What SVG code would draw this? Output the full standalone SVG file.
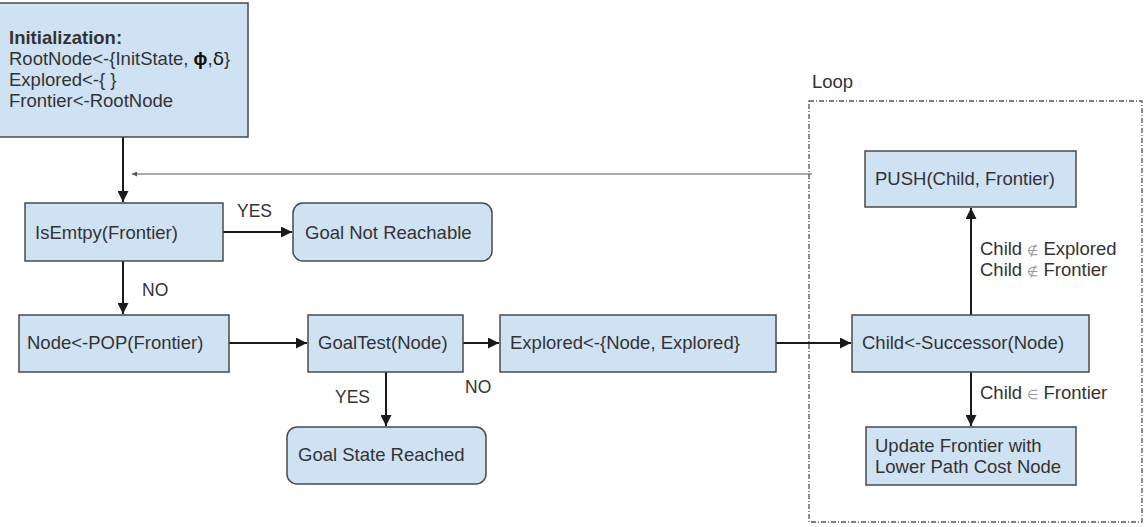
<svg xmlns="http://www.w3.org/2000/svg" width="1148" height="527" viewBox="0 0 1148 527">
  <style>
    .box { fill: #cfe2f3; stroke: #4a4a4a; stroke-width: 1.5; }
    .t { font-family: "Liberation Sans", Arial, sans-serif; font-size: 18.5px; fill: #333333; }
    .b { font-weight: bold; }
    .lbl { font-family: "Liberation Sans", Arial, sans-serif; font-size: 17.5px; fill: #333333; }
    .cl { font-size: 18.5px; }
    .sym { fill: #999999; font-size: 13px; }
    .edge { stroke: #1a1a1a; stroke-width: 2; fill: none; }
    .thin { stroke: #555555; stroke-width: 1; fill: none; }
    .loop { fill: none; stroke: #555555; stroke-width: 1.3; stroke-dasharray: 5 2 1 2; }
  </style>
  <defs>
    <marker id="ah" viewBox="0 0 10 10" refX="10" refY="5" markerWidth="6" markerHeight="5.5" orient="auto" markerUnits="strokeWidth">
      <path d="M0,0 L10,5 L0,10 z" fill="#1a1a1a"/>
    </marker>
    <marker id="ahs" viewBox="0 0 10 10" refX="10" refY="5" markerWidth="7" markerHeight="5" orient="auto" markerUnits="strokeWidth">
      <path d="M0,0 L10,5 L0,10 z" fill="#555555"/>
    </marker>
  </defs>
  <rect width="1148" height="527" fill="#ffffff"/>

  <g id="loop">
    <rect class="loop" x="809" y="101" width="333" height="421"/>
    <text class="t" x="812" y="88" font-size="17">Loop</text>
  </g>

  <g id="connectors">
    <line class="edge" x1="123" y1="137" x2="123" y2="202" marker-end="url(#ah)"/>
    <line class="thin" x1="812" y1="174" x2="132" y2="174" marker-end="url(#ahs)"/>
    <line class="edge" x1="223" y1="232" x2="292" y2="232" marker-end="url(#ah)"/>
    <line class="edge" x1="123" y1="261" x2="123" y2="314" marker-end="url(#ah)"/>
    <line class="edge" x1="229" y1="343" x2="307" y2="343" marker-end="url(#ah)"/>
    <line class="edge" x1="463" y1="343" x2="499" y2="343" marker-end="url(#ah)"/>
    <line class="edge" x1="386" y1="372" x2="386" y2="426" marker-end="url(#ah)"/>
    <line class="edge" x1="776" y1="343" x2="851" y2="343" marker-end="url(#ah)"/>
    <line class="edge" x1="971" y1="315" x2="971" y2="208" marker-end="url(#ah)"/>
    <line class="edge" x1="971" y1="372" x2="971" y2="426" marker-end="url(#ah)"/>
    <text class="lbl" x="237" y="217">YES</text>
    <text class="lbl" x="142" y="296">NO</text>
    <text class="lbl" x="335" y="403">YES</text>
    <text class="lbl" x="465" y="393">NO</text>
    <text class="lbl cl" x="980" y="255">Child <tspan class="sym">∉</tspan> Explored</text>
    <text class="lbl cl" x="980" y="276">Child <tspan class="sym">∉</tspan> Frontier</text>
    <text class="lbl cl" x="980" y="399">Child <tspan class="sym" fill="#555555">∈</tspan> Frontier</text>
  </g>

  <g id="init">
    <rect class="box" x="-2" y="3" width="250" height="134"/>
    <text class="t b" x="9" y="44">Initialization:</text>
    <text class="t" x="9" y="65">RootNode&lt;-{InitState, <tspan font-weight="bold" fill="#111">ϕ</tspan>,<tspan font-family="'DejaVu Sans', sans-serif" fill="#111">δ</tspan>}</text>
    <text class="t" x="9" y="86">Explored&lt;-{ }</text>
    <text class="t" x="9" y="107">Frontier&lt;-RootNode</text>
  </g>

  <g id="isempty">
    <rect class="box" x="25" y="203" width="198" height="58"/>
    <text class="t" x="35" y="239">IsEmtpy(Frontier)</text>
  </g>

  <g id="notreachable">
    <rect class="box" x="293" y="203" width="199" height="58" rx="10"/>
    <text class="t" x="305" y="239">Goal Not Reachable</text>
  </g>

  <g id="pop">
    <rect class="box" x="19" y="315" width="210" height="57"/>
    <text class="t" x="27" y="349">Node&lt;-POP(Frontier)</text>
  </g>

  <g id="goaltest">
    <rect class="box" x="308" y="315" width="155" height="57"/>
    <text class="t" x="318" y="349">GoalTest(Node)</text>
  </g>

  <g id="goalreached">
    <rect class="box" x="287" y="427" width="199" height="57" rx="10"/>
    <text class="t" x="298" y="461">Goal State Reached</text>
  </g>

  <g id="explored">
    <rect class="box" x="500" y="315" width="276" height="57"/>
    <text class="t" x="510" y="349">Explored&lt;-{Node, Explored}</text>
  </g>

  <g id="successor">
    <rect class="box" x="852" y="315" width="237" height="57"/>
    <text class="t" x="862" y="349">Child&lt;-Successor(Node)</text>
  </g>

  <g id="push">
    <rect class="box" x="865" y="151" width="211" height="56"/>
    <text class="t" x="875" y="185">PUSH(Child, Frontier)</text>
  </g>

  <g id="update">
    <rect class="box" x="866" y="427" width="210" height="58"/>
    <text class="t" x="875" y="452">Update Frontier with</text>
    <text class="t" x="875" y="473">Lower Path Cost Node</text>
  </g>
</svg>
